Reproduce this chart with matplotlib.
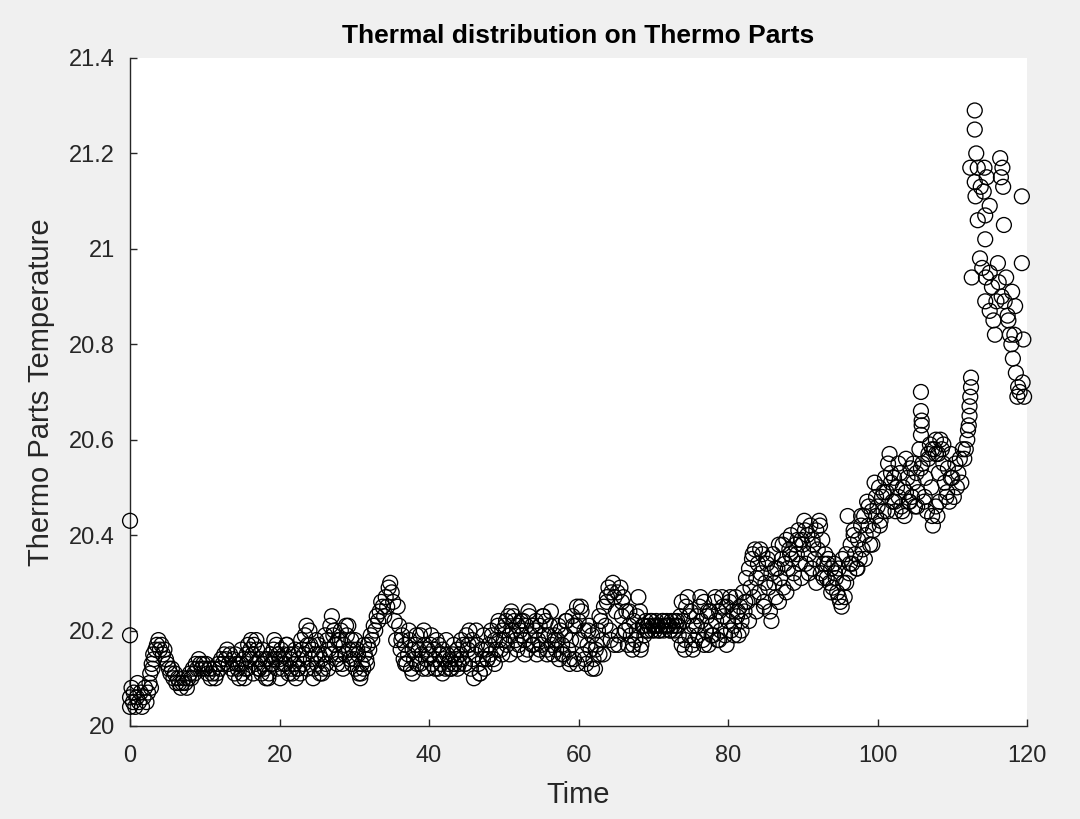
import numpy as np
import matplotlib
matplotlib.use("Agg")
import matplotlib.pyplot as plt

plt.rcParams['font.family'] = ['Liberation Sans', 'DejaVu Sans']

# ---- data (time, temperature), by segment ----
t_00 = [0.0, 0.0, 0.0, 0.0, 0.2, 0.4, 0.5, 0.7, 0.9, 1.0, 1.2, 1.4, 1.6, 1.8, 2.0,
        2.2, 2.4, 2.6, 2.7, 2.8, 2.9, 3.0, 3.1, 3.2, 3.4, 3.6, 3.8, 4.0, 4.2, 4.4,
        4.6, 4.8, 5.0, 5.2, 5.4, 5.6, 5.8, 6.0, 6.2, 6.4, 6.6, 6.8, 7.0, 7.2, 7.4,
        7.6, 7.8, 8.0, 8.2, 8.4, 8.6, 8.8, 9.0, 9.2, 9.4, 9.6, 9.8]
y_00 = [20.43, 20.19, 20.06, 20.04, 20.08, 20.05, 20.07, 20.04, 20.06, 20.09,
        20.05, 20.07, 20.04, 20.06, 20.08, 20.05, 20.07, 20.09, 20.11, 20.08,
        20.13, 20.12, 20.15, 20.14, 20.16, 20.17, 20.18, 20.16, 20.17, 20.15,
        20.16, 20.14, 20.13, 20.12, 20.11, 20.12, 20.10, 20.11, 20.09, 20.10,
        20.09, 20.08, 20.09, 20.10, 20.09, 20.08, 20.10, 20.11, 20.10, 20.12,
        20.11, 20.13, 20.12, 20.14, 20.13, 20.12, 20.13]

t_10 = [10.0, 10.2, 10.4, 10.6, 10.8, 11.0, 11.2, 11.4, 11.6, 11.8,
        12.0, 12.2, 12.4, 12.6, 12.8, 13.0, 13.2, 13.4, 13.6, 13.8,
        14.0, 14.2, 14.4, 14.6, 14.8, 15.0, 15.2, 15.4, 15.6, 15.8,
        16.0, 16.2, 16.4, 16.6, 16.8, 17.0, 17.2, 17.4, 17.6, 17.8,
        18.0, 18.2, 18.4, 18.6, 18.8, 19.0, 19.2, 19.4, 19.6, 19.8]
y_10 = [20.12, 20.13, 20.11, 20.12, 20.10, 20.11, 20.12, 20.10, 20.11, 20.13,
        20.12, 20.14, 20.13, 20.15, 20.14, 20.16, 20.13, 20.15, 20.12, 20.14,
        20.11, 20.13, 20.12, 20.10, 20.13, 20.11, 20.14, 20.12, 20.15, 20.17,
        20.14, 20.18, 20.15, 20.17, 20.13, 20.16, 20.12, 20.14, 20.11, 20.13,
        20.12, 20.10, 20.14, 20.11, 20.15, 20.13, 20.16, 20.14, 20.17, 20.15]

t_20 = [20.0, 20.2, 20.4, 20.6, 20.8, 21.0, 21.2, 21.4, 21.6, 21.8,
        22.0, 22.2, 22.4, 22.6, 22.8, 23.0, 23.2, 23.4, 23.6, 23.8,
        24.0, 24.2, 24.4, 24.6, 24.8, 25.0, 25.2, 25.4, 25.6, 25.8,
        26.0, 26.2, 26.4, 26.6, 26.8, 27.0, 27.2, 27.4, 27.6, 27.8,
        28.0, 28.2, 28.4, 28.6, 28.8, 29.0, 29.2, 29.4, 29.6, 29.8]
y_20 = [20.14, 20.16, 20.12, 20.15, 20.13, 20.17, 20.11, 20.14, 20.12, 20.15,
        20.13, 20.10, 20.12, 20.14, 20.11, 20.16, 20.13, 20.19, 20.21, 20.17,
        20.20, 20.14, 20.16, 20.12, 20.15, 20.13, 20.17, 20.11, 20.14, 20.12,
        20.15, 20.13, 20.18, 20.16, 20.21, 20.23, 20.19, 20.17, 20.14, 20.18,
        20.15, 20.20, 20.13, 20.17, 20.15, 20.19, 20.21, 20.14, 20.18, 20.16]

t_30 = [30.0, 30.2, 30.4, 30.6, 30.8, 31.0, 31.2, 31.4, 31.6, 31.8,
        32.0, 32.2, 32.4, 32.6, 32.8, 33.0, 33.2, 33.4, 33.6, 33.8,
        34.0, 34.2, 34.4, 34.6, 34.8, 35.0, 35.2, 35.4, 35.6, 35.8,
        36.0, 36.2, 36.4, 36.6, 36.8, 37.0, 37.2, 37.4, 37.6, 37.8,
        38.0, 38.2, 38.4, 38.6, 38.8, 39.0, 39.2, 39.4, 39.6, 39.8]
y_30 = [20.14, 20.12, 20.16, 20.11, 20.10, 20.13, 20.12, 20.15, 20.14, 20.17,
        20.16, 20.19, 20.18, 20.21, 20.20, 20.23, 20.22, 20.24, 20.26, 20.25,
        20.23, 20.27, 20.25, 20.29, 20.30, 20.28, 20.26, 20.22, 20.18, 20.25,
        20.21, 20.16, 20.19, 20.14, 20.17, 20.13, 20.15, 20.18, 20.12, 20.16,
        20.14, 20.17, 20.13, 20.16, 20.19, 20.15, 20.12, 20.17, 20.14, 20.16]

t_40 = [40.0, 40.2, 40.4, 40.6, 40.8, 41.0, 41.2, 41.4, 41.6, 41.8,
        42.0, 42.2, 42.4, 42.6, 42.8, 43.0, 43.2, 43.4, 43.6, 43.8,
        44.0, 44.2, 44.4, 44.6, 44.8, 45.0, 45.2, 45.4, 45.6, 45.8,
        46.0, 46.2, 46.4, 46.6, 46.8, 47.0, 47.2, 47.4, 47.6, 47.8,
        48.0, 48.2, 48.4, 48.6, 48.8, 49.0, 49.2, 49.4, 49.6, 49.8]
y_40 = [20.15, 20.17, 20.13, 20.16, 20.14, 20.18, 20.12, 20.15, 20.13, 20.16,
        20.14, 20.12, 20.15, 20.13, 20.14, 20.12, 20.15, 20.13, 20.14, 20.16,
        20.13, 20.15, 20.14, 20.17, 20.13, 20.19, 20.16, 20.20, 20.12, 20.18,
        20.10, 20.15, 20.17, 20.13, 20.11, 20.16, 20.14, 20.12, 20.16, 20.14,
        20.17, 20.15, 20.19, 20.14, 20.18, 20.16, 20.21, 20.18, 20.16, 20.20]

t_50 = [50.0, 50.2, 50.4, 50.6, 50.8, 51.0, 51.2, 51.4, 51.6, 51.8,
        52.0, 52.2, 52.4, 52.6, 52.8, 53.0, 53.2, 53.4, 53.6, 53.8,
        54.0, 54.2, 54.4, 54.6, 54.8, 55.0, 55.2, 55.4, 55.6, 55.8,
        56.0, 56.2, 56.4, 56.6, 56.8, 57.0, 57.2, 57.4, 57.6, 57.8,
        58.0, 58.2, 58.4, 58.6, 58.8, 59.0, 59.2, 59.4, 59.6, 59.8]
y_50 = [20.18, 20.21, 20.17, 20.23, 20.19, 20.24, 20.20, 20.22, 20.18, 20.21,
        20.17, 20.20, 20.19, 20.22, 20.18, 20.21, 20.16, 20.23, 20.19, 20.21,
        20.17, 20.20, 20.15, 20.18, 20.21, 20.17, 20.23, 20.19, 20.22, 20.16,
        20.19, 20.21, 20.17, 20.15, 20.19, 20.16, 20.18, 20.14, 20.20, 20.17,
        20.15, 20.19, 20.22, 20.16, 20.13, 20.18, 20.23, 20.14, 20.21, 20.25]

t_60 = [60.0, 60.2, 60.4, 60.6, 60.8, 61.0, 61.2, 61.4, 61.6, 61.8,
        62.0, 62.2, 62.4, 62.6, 62.8, 63.0, 63.2, 63.4, 63.6, 63.8,
        64.0, 64.2, 64.4, 64.6, 64.8, 65.0, 65.2, 65.4, 65.6, 65.8,
        66.0, 66.2, 66.4, 66.6, 66.8, 67.0, 67.2, 67.4, 67.6, 67.8,
        68.0, 68.2, 68.4, 68.6, 68.8, 69.0, 69.2, 69.4, 69.6, 69.8]
y_60 = [20.22, 20.18, 20.24, 20.15, 20.20, 20.13, 20.17, 20.21, 20.16, 20.19,
        20.14, 20.12, 20.17, 20.20, 20.15, 20.22, 20.18, 20.25, 20.21, 20.27,
        20.29, 20.20, 20.28, 20.30, 20.17, 20.24, 20.28, 20.19, 20.29, 20.23,
        20.27, 20.20, 20.24, 20.17, 20.21, 20.19, 20.16, 20.22, 20.18, 20.20,
        20.27, 20.24, 20.17, 20.21, 20.19, 20.22, 20.20, 20.21, 20.22, 20.20]

t_70 = [70.0, 70.2, 70.4, 70.6, 70.8, 71.0, 71.2, 71.4, 71.6, 71.8,
        72.0, 72.2, 72.4, 72.6, 72.8, 73.0, 73.2, 73.4, 73.6, 73.8,
        74.0, 74.2, 74.4, 74.6, 74.8, 75.0, 75.2, 75.4, 75.6, 75.8,
        76.0, 76.2, 76.4, 76.6, 76.8, 77.0, 77.2, 77.4, 77.6, 77.8,
        78.0, 78.2, 78.4, 78.6, 78.8, 79.0, 79.2, 79.4, 79.6, 79.8]
y_70 = [20.21, 20.20, 20.22, 20.21, 20.20, 20.21, 20.22, 20.20, 20.21, 20.22,
        20.21, 20.20, 20.22, 20.21, 20.20, 20.21, 20.22, 20.19, 20.23, 20.17,
        20.22, 20.16, 20.25, 20.27, 20.19, 20.24, 20.17, 20.21, 20.18, 20.23,
        20.19, 20.25, 20.22, 20.18, 20.26, 20.20, 20.23, 20.17, 20.24, 20.21,
        20.19, 20.26, 20.22, 20.18, 20.24, 20.20, 20.27, 20.23, 20.19, 20.25]

t_80 = [80.0, 80.2, 80.4, 80.6, 80.8, 81.0, 81.2, 81.4, 81.6, 81.8,
        82.0, 82.2, 82.4, 82.6, 82.8, 83.0, 83.2, 83.4, 83.6, 83.8,
        84.0, 84.2, 84.4, 84.6, 84.8, 85.0, 85.2, 85.4, 85.6, 85.8,
        86.0, 86.2, 86.4, 86.6, 86.8, 87.0, 87.2, 87.4, 87.6, 87.8,
        88.0, 88.2, 88.4, 88.6, 88.8, 89.0, 89.2, 89.4, 89.6, 89.8]
y_80 = [20.22, 20.26, 20.20, 20.24, 20.21, 20.27, 20.23, 20.19, 20.25, 20.22,
        20.28, 20.24, 20.31, 20.26, 20.33, 20.29, 20.35, 20.27, 20.37, 20.31,
        20.34, 20.28, 20.32, 20.36, 20.26, 20.30, 20.34, 20.29, 20.24, 20.32,
        20.36, 20.30, 20.27, 20.33, 20.38, 20.31, 20.35, 20.29, 20.34, 20.39,
        20.33, 20.37, 20.40, 20.35, 20.32, 20.38, 20.36, 20.41, 20.34, 20.39]

t_90 = [90.0, 90.2, 90.4, 90.6, 90.8, 91.0, 91.2, 91.4, 91.6, 91.8,
        92.0, 92.2, 92.4, 92.6, 92.8, 93.0, 93.2, 93.4, 93.6, 93.8,
        94.0, 94.2, 94.4, 94.6, 94.8, 95.0, 95.2, 95.4, 95.6, 95.8,
        96.0, 96.2, 96.4, 96.6, 96.8, 97.0, 97.2, 97.4, 97.6, 97.8,
        98.0, 98.2, 98.4, 98.6, 98.8, 99.0, 99.2, 99.4, 99.6, 99.8]
y_90 = [20.38, 20.43, 20.34, 20.40, 20.36, 20.42, 20.33, 20.38, 20.35, 20.41,
        20.37, 20.43, 20.32, 20.39, 20.34, 20.36, 20.31, 20.35, 20.30, 20.33,
        20.29, 20.34, 20.31, 20.28, 20.33, 20.26, 20.25, 20.30, 20.27, 20.36,
        20.44, 20.32, 20.38, 20.34, 20.41, 20.36, 20.33, 20.39, 20.35, 20.42,
        20.37, 20.44, 20.40, 20.47, 20.42, 20.38, 20.45, 20.41, 20.51, 20.44]

t_100 = [100.0, 100.2, 100.4, 100.6, 100.8, 101.0, 101.2, 101.4, 101.6, 101.8,
         102.0, 102.2, 102.4, 102.6, 102.8, 103.0, 103.2, 103.4, 103.6, 103.8,
         104.0, 104.2, 104.4, 104.6, 104.8, 105.0, 105.2, 105.4, 105.6, 105.8,
         106.0, 106.2, 106.4, 106.6, 106.8, 107.0, 107.2, 107.4, 107.6, 107.8,
         108.0, 108.2, 108.4, 108.6, 108.8, 109.0, 109.2, 109.4, 109.6, 109.8,
         105.8, 105.8, 105.9, 105.9, 107.3, 107.8, 108.1]
y_100 = [20.46, 20.50, 20.43, 20.48, 20.45, 20.52, 20.49, 20.55, 20.57, 20.51,
         20.47, 20.52, 20.45, 20.50, 20.48, 20.53, 20.46, 20.50, 20.44, 20.49,
         20.52, 20.47, 20.54, 20.48, 20.51, 20.46, 20.53, 20.49, 20.58, 20.61,
         20.55, 20.47, 20.52, 20.45, 20.57, 20.59, 20.50, 20.42, 20.58, 20.46,
         20.44, 20.53, 20.60, 20.58, 20.59, 20.51, 20.48, 20.54, 20.47, 20.52,
         20.70, 20.66, 20.64, 20.63, 20.58, 20.60, 20.57]

t_110 = [110.0, 110.2, 110.4, 110.6, 110.8, 111.0, 111.2, 111.4, 111.6, 111.8,
         112.0, 112.1, 112.2, 112.3, 112.3, 112.4, 112.5, 112.5,
         112.4, 112.6, 113.0, 113.0, 113.2, 113.0, 113.4, 113.1, 113.4, 113.8,
         113.7, 114.0, 114.3, 114.4, 114.4, 114.2, 114.6, 114.5, 114.4, 115.0,
         115.0, 115.0, 115.3, 115.5, 115.7, 115.9, 116.1, 116.2, 116.4, 116.5,
         116.7, 116.8, 116.9, 116.6, 117.0, 117.2, 117.4, 117.5, 117.7, 117.9,
         118.0, 118.1, 118.3, 118.4, 118.5, 118.7, 118.8, 119.0, 119.3, 119.3,
         119.5, 119.4, 119.6]
y_110 = [20.52, 20.48, 20.55, 20.50, 20.53, 20.56, 20.51, 20.58, 20.56, 20.58,
         20.60, 20.62, 20.63, 20.65, 20.67, 20.69, 20.71, 20.73,
         21.17, 20.94, 21.29, 21.25, 21.20, 21.14, 21.17, 21.11, 21.06, 21.13,
         20.98, 20.96, 21.17, 21.07, 21.02, 21.12, 21.15, 20.94, 20.89, 21.09,
         20.95, 20.87, 20.92, 20.85, 20.82, 20.89, 20.97, 20.93, 21.19, 21.15,
         21.17, 21.13, 21.05, 20.90, 20.89, 20.94, 20.86, 20.85, 20.82, 20.80,
         20.91, 20.77, 20.82, 20.88, 20.74, 20.69, 20.71, 20.70, 21.11, 20.97,
         20.81, 20.72, 20.69]

# additional readings that fill out the width of the dense band
t_b1 = [14.1, 14.5, 14.9, 15.3, 15.7, 16.1, 16.5, 16.9, 17.3, 17.7,
        18.1, 18.5, 18.9, 19.3, 19.7, 20.1, 20.5, 20.9, 21.3, 21.7,
        22.1, 22.5, 22.9, 23.3, 23.7, 24.1, 24.5, 24.9, 25.3, 25.7,
        26.1, 26.5, 26.9, 27.3, 27.7, 28.1, 28.5, 28.9, 29.3, 29.7,
        30.1, 30.5, 30.9, 31.3, 31.7]
y_b1 = [20.15, 20.13, 20.16, 20.10, 20.12, 20.16, 20.11, 20.18, 20.12, 20.16,
        20.14, 20.10, 20.13, 20.18, 20.12, 20.10, 20.13, 20.17, 20.15, 20.11,
        20.16, 20.12, 20.18, 20.15, 20.12, 20.17, 20.10, 20.18, 20.15, 20.11,
        20.19, 20.12, 20.15, 20.20, 20.13, 20.18, 20.12, 20.21, 20.16, 20.13,
        20.18, 20.15, 20.11, 20.17, 20.13]

t_b2 = [36.3, 36.8, 37.3, 37.8, 38.3, 38.8, 39.3, 39.8, 40.3, 40.8,
        41.3, 41.8, 42.3, 42.8, 43.3, 43.8, 44.3, 44.8, 45.3, 45.8,
        46.3, 46.8, 47.3, 47.8, 48.3, 48.8, 49.3, 49.8, 50.3, 50.8,
        51.3, 51.8, 52.3, 52.8, 53.3, 53.8, 54.3, 54.8, 55.3, 55.8,
        56.3, 56.8, 57.3, 57.8, 58.3, 58.8, 59.3, 59.8, 60.3, 60.8,
        61.3, 61.8]
y_b2 = [20.18, 20.13, 20.20, 20.11, 20.19, 20.13, 20.20, 20.12, 20.19, 20.12,
        20.17, 20.11, 20.18, 20.12, 20.17, 20.12, 20.18, 20.13, 20.17, 20.14,
        20.20, 20.11, 20.19, 20.14, 20.20, 20.13, 20.22, 20.15, 20.22, 20.15,
        20.23, 20.16, 20.22, 20.15, 20.24, 20.17, 20.22, 20.16, 20.23, 20.15,
        20.24, 20.18, 20.21, 20.15, 20.22, 20.14, 20.21, 20.13, 20.25, 20.14,
        20.20, 20.12]

t_b3 = [62.3, 62.8, 63.3, 63.8, 64.3, 64.8, 65.3, 65.8, 66.3, 66.8,
        67.3, 67.8, 68.3, 68.8, 69.3, 69.8, 70.3, 70.8, 71.3, 71.8,
        72.3, 72.8, 73.3, 73.8, 74.3, 74.8, 75.3, 75.8]
y_b3 = [20.16, 20.23, 20.15, 20.26, 20.18, 20.27, 20.17, 20.26, 20.20, 20.24,
        20.17, 20.23, 20.16, 20.21, 20.20, 20.22, 20.21, 20.20, 20.22, 20.21,
        20.20, 20.22, 20.21, 20.26, 20.18, 20.23, 20.16, 20.21]

t_b4 = [76.3, 76.8, 77.3, 77.8, 78.3, 78.8, 79.3, 79.8, 80.3, 80.8,
        81.3, 81.8, 82.3, 82.8, 83.3, 83.8, 84.3, 84.8, 85.3, 85.8,
        86.3, 86.8, 87.3, 87.8, 88.3, 88.8, 89.3, 89.8, 90.3, 90.8,
        91.3, 91.8, 92.3, 92.8, 93.3, 93.8, 94.3, 94.8, 95.3, 95.8,
        96.3, 96.8, 97.3, 97.8, 98.3, 98.8, 99.3, 99.8, 100.3, 100.8,
        101.3, 101.8, 102.3, 102.8, 103.3, 103.8, 104.3, 104.8, 105.3, 105.8,
        106.3, 106.8, 107.3, 107.8, 108.3, 108.8, 109.3, 109.8]
y_b4 = [20.27, 20.17, 20.24, 20.19, 20.27, 20.18, 20.25, 20.17, 20.27, 20.19,
        20.24, 20.20, 20.26, 20.22, 20.36, 20.24, 20.37, 20.25, 20.35, 20.22,
        20.33, 20.26, 20.38, 20.28, 20.36, 20.30, 20.39, 20.31, 20.41, 20.32,
        20.39, 20.30, 20.42, 20.31, 20.34, 20.28, 20.32, 20.27, 20.35, 20.30,
        20.34, 20.40, 20.33, 20.44, 20.35, 20.46, 20.38, 20.48, 20.42, 20.49,
        20.45, 20.53, 20.47, 20.55, 20.45, 20.56, 20.47, 20.55, 20.46, 20.54,
        20.48, 20.56, 20.44, 20.57, 20.47, 20.55, 20.49, 20.57]

time_segments = [t_00, t_10, t_20, t_30, t_40, t_50, t_60, t_70, t_80, t_90,
                 t_100, t_110, t_b1, t_b2, t_b3, t_b4]
temp_segments = [y_00, y_10, y_20, y_30, y_40, y_50, y_60, y_70, y_80, y_90,
                 y_100, y_110, y_b1, y_b2, y_b3, y_b4]

x_ticks = [0, 20, 40, 60, 80, 100, 120]
y_ticks = [20.0, 20.2, 20.4, 20.6, 20.8, 21.0, 21.2, 21.4]
y_ticklabels = ['20', '20.2', '20.4', '20.6', '20.8', '21', '21.2', '21.4']

# ---- figure ----
fig = plt.figure(figsize=(10.8, 8.19), dpi=100, facecolor='#f0f0f0')
ax = fig.add_axes([0.1204, 0.1136, 0.8306, 0.8156])
ax.set_facecolor('white')

axis_color = '#262626'
for tt, yy in zip(time_segments, temp_segments):
    ax.scatter(tt, yy, s=115, marker='o', facecolors='none',
               edgecolors='black', linewidths=0.95, clip_on=False, zorder=3)

ax.set_xlim(0, 120)
ax.set_ylim(20, 21.4)
ax.set_xticks(x_ticks)
ax.set_xticklabels([str(v) for v in x_ticks])
ax.set_yticks(y_ticks)
ax.set_yticklabels(y_ticklabels)

for side in ['top', 'right']:
    ax.spines[side].set_visible(False)
for side in ['left', 'bottom']:
    ax.spines[side].set_color(axis_color)
    ax.spines[side].set_linewidth(1.0)

ax.tick_params(axis='both', direction='in', length=5, width=1.0,
               colors=axis_color, labelsize=17, labelcolor=axis_color)
ax.tick_params(axis='x', pad=14)
ax.tick_params(axis='y', pad=11)

ax.set_title('Thermal distribution on Thermo Parts', fontsize=19,
             fontweight='bold', color='black', pad=11)
ax.set_xlabel('Time', fontsize=21, color=axis_color, labelpad=10)
ax.set_ylabel('Thermo Parts Temperature', fontsize=21, color=axis_color, labelpad=10)

fig.savefig('out.png', dpi=100, facecolor=fig.get_facecolor())
